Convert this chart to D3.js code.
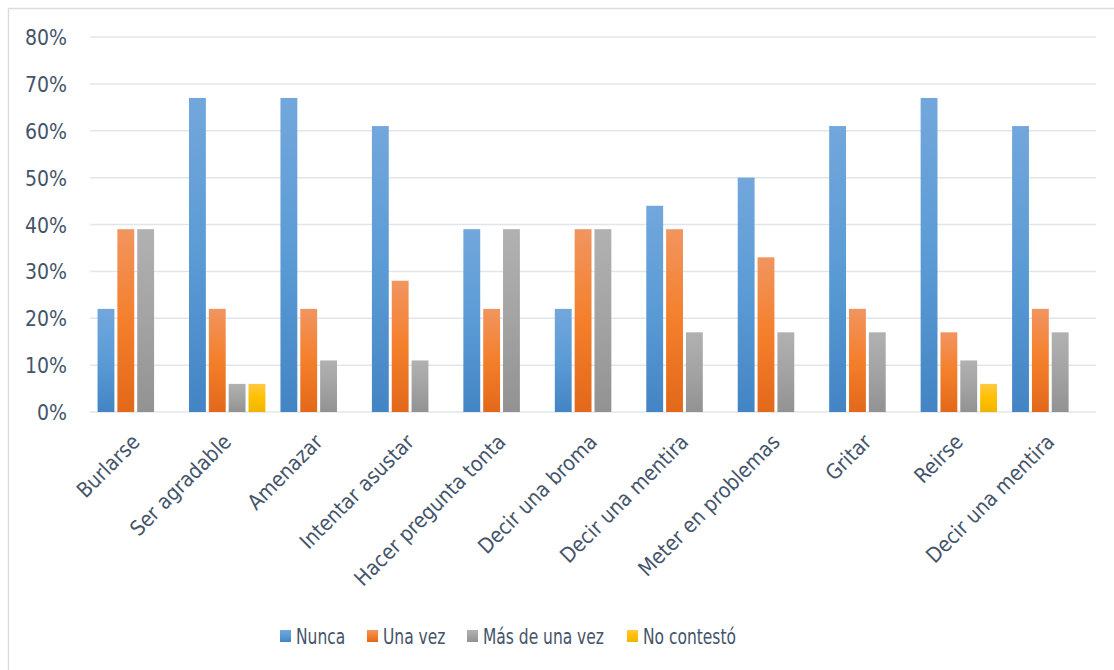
<!DOCTYPE html>
<html>
<head>
<meta charset="utf-8">
<script src="https://cdn.jsdelivr.net/npm/d3@7"></script>
<style>
  html, body { margin: 0; padding: 0; background: #ffffff; }
  svg { display: block; }
  text { font-family: "Liberation Sans Narrow", "DejaVu Sans Condensed", "Open Sans", sans-serif; fill: #44546a; }
</style>
</head>
<body>
<svg id="chart" width="1114" height="670"></svg>
<script>
// Chart data
const categories = [
  "Burlarse", "Ser agradable", "Amenazar", "Intentar asustar",
  "Hacer pregunta tonta", "Decir una broma", "Decir una mentira",
  "Meter en problemas", "Gritar", "Reirse", "Decir una mentira"
];
const seriesNames = ["Nunca", "Una vez", "Más de una vez", "No contestó"];
const nunca      = [22, 67, 67, 61, 39, 22, 44, 50, 61, 67, 61];
const unaVez     = [39, 22, 22, 28, 22, 39, 39, 33, 22, 17, 22];
const masDeUna   = [39,  6, 11, 11, 39, 39, 17, 17, 17, 11, 17];
const noContesto = [ 0,  6,  0,  0,  0,  0,  0,  0,  0,  6,  0];
const yTicks = [0, 10, 20, 30, 40, 50, 60, 70, 80];

const seriesValues = [nunca, unaVez, masDeUna, noContesto];

// Fill gradients (light at top, deeper at the base)
const gradients = [
  ["#72a7dc", "#5b9bd5", "#4384c4"],
  ["#f1955f", "#f47f2b", "#e2681a"],
  ["#b1b1b1", "#a3a3a3", "#929292"],
  ["#ffc941", "#ffc000", "#efb500"]
];

const svg = d3.select("#chart");
const defs = svg.append("defs");
gradients.forEach((g, i) => {
  const lg = defs.append("linearGradient")
    .attr("id", "grad" + i)
    .attr("x1", 0).attr("y1", 0).attr("x2", 0).attr("y2", 1);
  lg.append("stop").attr("offset", "0%").attr("stop-color", g[0]);
  lg.append("stop").attr("offset", "50%").attr("stop-color", g[1]);
  lg.append("stop").attr("offset", "100%").attr("stop-color", g[2]);
});

// Chart frame
svg.append("path")
  .attr("d", "M8.5,670 L8.5,8.5 L1114,8.5")
  .attr("fill", "none")
  .attr("stroke", "#d9dde3")
  .attr("stroke-width", 1.5);

const plot = { left: 90, right: 1096, top: 37, bottom: 412 };

const x0 = d3.scaleBand()
  .domain(d3.range(categories.length))
  .range([plot.left, plot.right])
  .paddingInner(0.165)
  .paddingOuter(0.0825);

const x1 = d3.scaleBand()
  .domain(d3.range(seriesNames.length))
  .range([0, x0.bandwidth()])
  .paddingInner(0.15)
  .paddingOuter(0);

const y = d3.scaleLinear()
  .domain([0, 80])
  .range([plot.bottom, plot.top]);

// Gridlines
svg.append("g")
  .selectAll("line")
  .data(yTicks)
  .join("line")
  .attr("x1", plot.left)
  .attr("x2", plot.right)
  .attr("y1", d => y(d))
  .attr("y2", d => y(d))
  .attr("stroke", "#e1e5eb")
  .attr("stroke-width", 1.5);

// Y axis labels
const yAxis = d3.axisLeft(y)
  .tickValues(yTicks)
  .tickFormat(d => d + "%")
  .tickSize(0)
  .tickPadding(23);
const yg = svg.append("g")
  .attr("transform", `translate(${plot.left},0)`)
  .call(yAxis);
yg.select(".domain").remove();
yg.selectAll("text")
  .style("font-size", "21px")
  .attr("fill", "#44546a")
  .attr("dy", "0.36em");

// Bars
const groups = svg.append("g")
  .selectAll("g")
  .data(categories.map((c, i) => i))
  .join("g")
  .attr("transform", i => `translate(${x0(i)},0)`);

groups.selectAll("rect")
  .data(i => seriesValues.map((vals, s) => ({ s, v: vals[i] })).filter(d => d.v > 0))
  .join("rect")
  .attr("x", d => x1(d.s))
  .attr("width", x1.bandwidth())
  .attr("y", d => y(d.v))
  .attr("height", d => y(0) - y(d.v))
  .attr("fill", d => `url(#grad${d.s})`);

// Category labels, rotated
const xAxis = d3.axisBottom(x0)
  .tickFormat(i => categories[i])
  .tickSize(0)
  .tickPadding(0);
const xg = svg.append("g")
  .attr("transform", `translate(0,${plot.bottom})`)
  .call(xAxis);
xg.select(".domain").remove();
xg.selectAll("text")
  .style("font-size", "21px")
  .attr("fill", "#44546a")
  .attr("text-anchor", "end")
  .attr("transform", "translate(0,26) rotate(-45)")
  .attr("dy", "0.36em")
  .attr("y", 0);

// Legend
const legendX = [280, 367, 467, 627];
const legend = svg.append("g")
  .selectAll("g")
  .data(seriesNames)
  .join("g")
  .attr("transform", (d, i) => `translate(${legendX[i]},636)`);
legend.append("rect")
  .attr("x", 0).attr("y", -6)
  .attr("width", 11).attr("height", 12)
  .attr("fill", (d, i) => `url(#grad${i})`);
legend.append("text")
  .attr("transform", "translate(16,0) scale(0.82,1)")
  .attr("dy", "0.36em")
  .style("font-size", "21px")
  .text(d => d);
</script>
</body>
</html>
